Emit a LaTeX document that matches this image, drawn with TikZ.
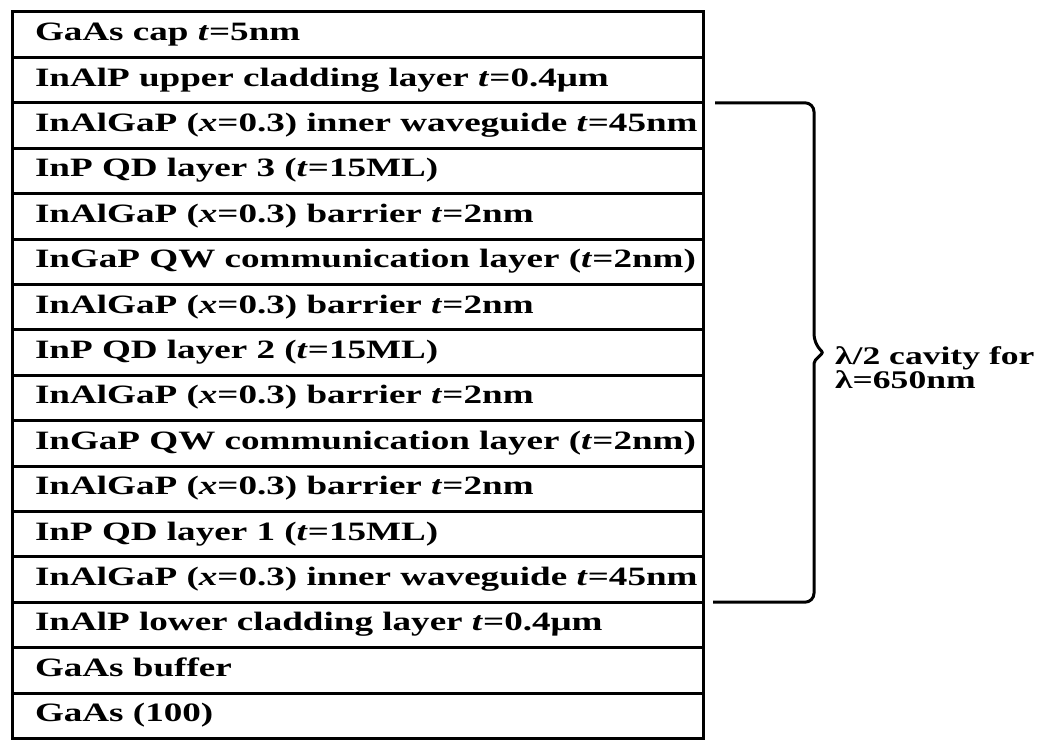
\documentclass[tikz,border=0pt]{standalone}
\usepackage{fontspec}
\usepackage{tikz}
\newfontfamily\layerfont{Liberation Serif}[FakeStretch=1.4]
\newcommand{\tv}{\textit{t}}
\newcommand{\xv}{\textit{x}}
\newcommand{\layerw}{645bp}

\begin{document}
\begin{tikzpicture}[x=1bp, y=-1bp,
	layer/.style={draw, line width=3bp, outer sep=0pt, inner xsep=23bp, inner ysep=0pt,
		minimum width=691bp, minimum height=45.4bp, text height=18bp, text depth=6bp,
		anchor=north west, font=\layerfont\bfseries\fontsize{26.6}{24.5}\selectfont},
	brace/.style={line width=3bp, rounded corners=9bp},
	cavity/.style={align=left, inner sep=0pt, anchor=north west,
		font=\layerfont\bfseries\fontsize{25.5}{24.5}\selectfont}]
\useasboundingbox (0,0) rectangle (1042,740);
% draw layers
	\foreach \lbl [count=\i] in {{GaAs cap \tv=5nm},
		{InAlP upper cladding layer \tv=0.4μm},
		{InAlGaP (\xv=0.3) inner waveguide \tv=45nm},
		{InP QD layer 3 (\tv=15ML)},
		{InAlGaP (\xv=0.3) barrier \tv=2nm},
		{InGaP QW communication layer (\tv=2nm)},
		{InAlGaP (\xv=0.3) barrier \tv=2nm},
		{InP QD layer 2 (\tv=15ML)},
		{InAlGaP (\xv=0.3) barrier \tv=2nm},
		{InGaP QW communication layer (\tv=2nm)},
		{InAlGaP (\xv=0.3) barrier \tv=2nm},
		{InP QD layer 1 (\tv=15ML)},
		{InAlGaP (\xv=0.3) inner waveguide \tv=45nm},
		{InAlP lower cladding layer \tv=0.4μm},
		{GaAs buffer},
		{GaAs (100)}}
		\node[layer] (L\i) at (12, {12+(\i-1)*45.4}) {\makebox[\layerw][l]{\lbl}};

% draw brace for the cavity
	\coordinate (tip) at ([xshift=120bp]L8.east);
	\draw[brace] ([xshift=12bp]L3.north east) -- ([xshift=111bp]L3.north east)
		-- ([xshift=111bp, yshift=9bp]L8.east) [rounded corners=2bp] -- (tip)
		-- ([xshift=111bp, yshift=-9bp]L8.east) [rounded corners=9bp]
		-- ([xshift=111bp]L13.south east) -- ([xshift=10bp]L13.south east);
	\node[cavity] (cav) at ([xshift=12bp, yshift=6bp]tip) {λ/2 cavity for\\λ=650nm};
\end{tikzpicture}
\end{document}
